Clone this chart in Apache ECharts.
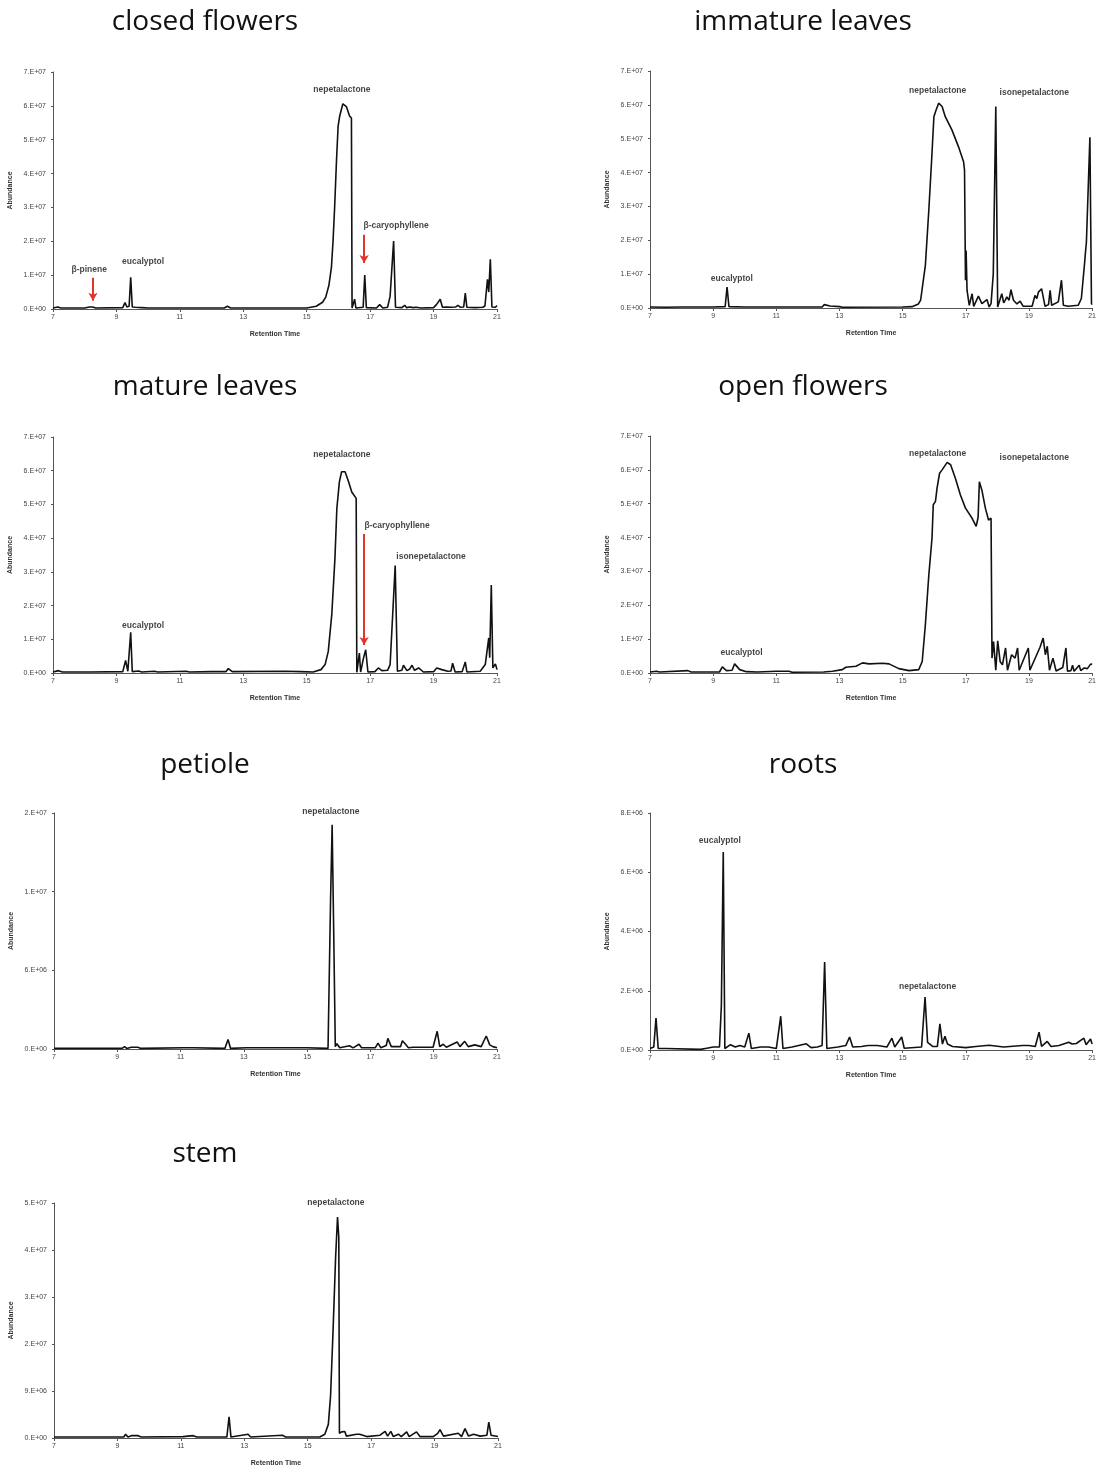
<!DOCTYPE html>
<html>
<head>
<meta charset="utf-8">
<script src="https://cdn.jsdelivr.net/npm/echarts@6/dist/echarts.min.js"></script>
<style>
html,body{margin:0;padding:0;background:#fff;}
#c{width:1099px;height:1468px;}
</style>
</head>
<body>
<div id="c"></div>
<script>
// ---------- DATA (retention time [min], abundance [x1e6]) ----------
var panelTitles = ['closed flowers','immature leaves','mature leaves','open flowers','petiole','roots','stem'];
var xTicks = ['7','9','11','13','15','17','19','21'];
var ticks7e7 = ['0.E+00','1.E+07','2.E+07','3.E+07','4.E+07','5.E+07','6.E+07','7.E+07'];
var ticksPetiole = ['0.E+00','6.E+06','1.E+07','2.E+07'];
var ticksRoots = ['0.E+00','2.E+06','4.E+06','6.E+06','8.E+06'];
var ticksStem = ['0.E+00','9.E+06','2.E+07','3.E+07','4.E+07','5.E+07'];

var closedFlowers = [[7.0,0.3],[7.15,0.6],[7.25,0.3],[8.0,0.3],[8.15,0.6],[8.25,0.6],[8.35,0.3],[9.2,0.4],[9.27,1.9],[9.33,0.6],[9.4,0.8],[9.45,9.4],[9.5,0.6],[9.6,0.5],[9.8,0.4],[10.0,0.3],[12.4,0.3],[12.5,0.8],[12.6,0.3],[15.0,0.3],[15.3,0.8],[15.5,2.0],[15.6,3.5],[15.7,7],[15.78,12.4],[15.83,20],[15.88,30],[15.94,44],[15.99,54],[16.04,57],[16.14,60.6],[16.25,59.8],[16.35,57],[16.41,56.4],[16.43,0.3],[16.48,0.5],[16.51,2.9],[16.55,0.3],[16.78,0.5],[16.83,10.0],[16.88,0.4],[17.2,0.3],[17.3,1.3],[17.4,0.3],[17.55,0.5],[17.63,3.8],[17.74,20.1],[17.8,0.5],[18.0,0.4],[18.09,1.1],[18.15,0.4],[18.25,0.6],[18.35,0.4],[18.45,0.5],[18.6,0.3],[19.0,0.4],[19.09,1.3],[19.21,2.9],[19.28,0.5],[19.4,0.6],[19.55,0.5],[19.7,0.6],[19.77,1.1],[19.85,0.5],[19.95,0.6],[20.0,4.7],[20.05,0.5],[20.3,0.4],[20.55,0.5],[20.62,0.9],[20.7,8.8],[20.74,5],[20.79,14.7],[20.84,0.6],[20.95,0.5],[21.0,1.0]];

var immatureLeaves = [[7.0,0.3],[7.5,0.2],[8.0,0.3],[9.0,0.3],[9.38,0.4],[9.44,6.2],[9.5,0.4],[10.0,0.3],[12.45,0.3],[12.52,1.0],[12.7,0.6],[13.0,0.4],[13.1,0.2],[15.0,0.3],[15.3,0.4],[15.5,1.2],[15.57,2.3],[15.67,9.2],[15.72,12.6],[15.83,29],[15.93,45.7],[15.99,56.5],[16.06,58.5],[16.14,60.5],[16.25,59.5],[16.35,56.5],[16.56,52.6],[16.77,47.6],[16.93,43.2],[16.96,40.7],[16.99,8.2],[17.01,17],[17.04,5.2],[17.11,0.8],[17.2,4.2],[17.25,0.5],[17.4,3.5],[17.51,1.3],[17.67,2.5],[17.74,0.3],[17.8,1.3],[17.87,10],[17.95,59.5],[18.01,0.3],[18.14,4.2],[18.2,1.5],[18.25,2.3],[18.3,3.3],[18.37,2.3],[18.43,5.4],[18.51,2.3],[18.62,1.2],[18.72,2.0],[18.82,0.5],[19.1,0.5],[19.19,3.7],[19.25,2.8],[19.3,4.7],[19.4,5.7],[19.51,0.5],[19.62,1.0],[19.67,5.2],[19.72,0.8],[19.93,1.8],[20.03,8.2],[20.09,0.8],[20.24,0.5],[20.56,0.8],[20.66,2.8],[20.77,14.1],[20.79,16.5],[20.82,19.5],[20.93,50.4],[20.98,1.3],[21.0,1.0]];

var matureLeaves = [[7.0,0.3],[7.17,0.7],[7.3,0.3],[8.2,0.3],[9.2,0.4],[9.29,3.7],[9.36,0.5],[9.4,0.6],[9.45,12.1],[9.5,0.4],[9.7,0.6],[9.8,0.3],[10.2,0.5],[10.3,0.3],[11.2,0.5],[11.3,0.3],[12.0,0.4],[12.45,0.4],[12.53,1.3],[12.65,0.4],[14.3,0.5],[14.8,0.4],[15.2,0.3],[15.45,1.0],[15.58,2.5],[15.68,6.4],[15.79,17.3],[15.89,34],[15.95,48.8],[16.03,56.7],[16.1,59.7],[16.21,59.7],[16.32,56.7],[16.42,53.7],[16.56,51.8],[16.58,0.2],[16.63,0.2],[16.66,5.9],[16.7,0.3],[16.79,4.4],[16.86,6.9],[16.93,0.3],[17.15,0.4],[17.26,1.5],[17.37,0.7],[17.55,0.8],[17.63,2.5],[17.79,31.9],[17.86,0.5],[18.0,0.8],[18.05,2.3],[18.16,0.7],[18.25,1.2],[18.32,2.3],[18.4,0.8],[18.53,1.5],[18.68,0.3],[19.0,0.4],[19.1,1.5],[19.26,1.0],[19.45,0.5],[19.55,0.6],[19.6,2.9],[19.68,0.3],[19.9,0.4],[20.0,3.3],[20.05,0.3],[20.47,0.5],[20.63,2.5],[20.74,10.4],[20.77,4.5],[20.82,26.1],[20.87,1.5],[20.95,2.7],[21.0,1.0]];

var openFlowers = [[7.0,0.3],[7.21,0.5],[7.3,0.3],[8.2,0.7],[8.3,0.3],[9.2,0.3],[9.29,1.8],[9.42,0.7],[9.6,0.8],[9.68,2.7],[9.84,1.0],[10.05,0.4],[10.4,0.3],[11.0,0.5],[11.4,0.5],[11.5,0.2],[12.5,0.3],[12.78,0.5],[13.09,1.0],[13.2,1.7],[13.52,2.0],[13.73,3.0],[13.94,2.7],[14.36,2.9],[14.57,2.7],[14.88,1.3],[15.2,0.7],[15.51,1.0],[15.62,3.4],[15.72,14.3],[15.83,29],[15.93,39.8],[15.97,49.7],[16.04,50.7],[16.09,54.6],[16.17,59],[16.25,60],[16.41,62.2],[16.52,61.5],[16.67,57.5],[16.83,52.6],[16.99,48.7],[17.2,45.7],[17.33,43.3],[17.39,46],[17.43,56.5],[17.51,54],[17.62,48.7],[17.72,45.2],[17.8,45.7],[17.83,4.4],[17.88,9.3],[17.95,0.8],[18.01,9.5],[18.09,3.3],[18.16,2.4],[18.26,7.4],[18.32,0.8],[18.45,5.4],[18.56,4.4],[18.64,7.4],[18.69,0.8],[18.98,7.4],[19.03,0.8],[19.35,7.6],[19.45,10.3],[19.52,5.4],[19.58,7.9],[19.65,0.8],[19.76,4.4],[19.86,0.6],[20.07,1.6],[20.17,7.4],[20.22,0.5],[20.33,0.7],[20.38,2.3],[20.43,0.5],[20.59,2.3],[20.64,0.7],[20.75,1.5],[20.85,1.3],[20.96,2.7],[21.0,2.5]];

var petiole = [[7.0,0.05],[9.15,0.05],[9.23,0.2],[9.3,0.05],[9.44,0.15],[9.65,0.15],[9.75,0.05],[11.1,0.1],[11.4,0.1],[12.4,0.05],[12.5,0.8],[12.58,0.05],[13.08,0.1],[14.18,0.1],[14.97,0.1],[15.66,0.05],[15.74,12.6],[15.79,19.0],[15.84,9.8],[15.89,0.2],[15.94,0.45],[16.03,0.1],[16.34,0.28],[16.45,0.1],[16.64,0.4],[16.72,0.1],[17.15,0.1],[17.24,0.5],[17.33,0.1],[17.5,0.3],[17.55,0.9],[17.66,0.2],[17.95,0.2],[18.01,0.7],[18.11,0.4],[18.2,0.1],[18.35,0.15],[18.98,0.15],[19.11,1.5],[19.19,0.2],[19.3,0.4],[19.4,0.15],[19.74,0.6],[19.83,0.2],[19.98,0.65],[20.09,0.2],[20.3,0.35],[20.5,0.2],[20.66,1.1],[20.77,0.35],[20.87,0.2],[21.0,0.1]];

var roots = [[7.0,0.05],[7.12,0.1],[7.19,1.08],[7.26,0.05],[7.5,0.05],[8.6,0.02],[8.8,0.06],[9.0,0.1],[9.2,0.1],[9.26,1.5],[9.32,6.68],[9.37,0.05],[9.55,0.18],[9.7,0.1],[9.84,0.15],[10.0,0.1],[10.13,0.57],[10.21,0.05],[10.5,0.1],[10.75,0.1],[11.0,0.05],[11.14,1.14],[11.21,0.05],[11.5,0.1],[11.95,0.21],[12.1,0.08],[12.3,0.1],[12.45,0.15],[12.53,2.97],[12.6,0.05],[12.95,0.1],[13.2,0.15],[13.32,0.44],[13.42,0.1],[13.7,0.12],[13.9,0.15],[14.2,0.15],[14.5,0.1],[14.66,0.4],[14.75,0.1],[14.97,0.44],[15.05,0.06],[15.6,0.1],[15.71,1.79],[15.79,0.26],[15.95,0.12],[16.1,0.12],[16.18,0.88],[16.26,0.2],[16.34,0.46],[16.42,0.2],[16.58,0.12],[17.0,0.08],[17.32,0.12],[17.74,0.16],[18.2,0.1],[18.79,0.15],[19.0,0.15],[19.2,0.12],[19.32,0.6],[19.4,0.12],[19.58,0.29],[19.7,0.12],[19.95,0.15],[20.26,0.26],[20.37,0.2],[20.5,0.22],[20.74,0.4],[20.81,0.18],[20.95,0.37],[21.0,0.2]];

var stem = [[7.0,0.2],[7.8,0.2],[9.2,0.2],[9.26,0.8],[9.33,0.2],[9.44,0.5],[9.65,0.5],[9.75,0.2],[11.07,0.3],[11.39,0.5],[11.5,0.2],[12.45,0.2],[12.52,4.5],[12.58,0.2],[13.12,0.8],[13.2,0.2],[14.2,0.6],[14.3,0.2],[15.38,0.2],[15.54,0.8],[15.65,2.9],[15.72,8.9],[15.8,23],[15.88,38.5],[15.94,47],[15.98,42.7],[16.0,1.0],[16.07,1.3],[16.17,1.4],[16.22,0.4],[16.54,0.8],[16.6,0.4],[16.64,0.8],[16.86,0.3],[17.28,0.6],[17.44,1.4],[17.52,0.4],[17.62,1.4],[17.7,0.3],[17.86,0.8],[17.95,0.3],[18.12,1.3],[18.2,0.3],[18.43,1.3],[18.54,0.3],[18.96,0.3],[19.1,1.0],[19.17,1.8],[19.28,0.4],[19.75,1.0],[19.85,0.3],[19.96,2.0],[20.07,0.4],[20.23,0.8],[20.44,0.4],[20.65,0.6],[20.71,3.4],[20.78,0.6],[21.0,0.3]];

// peak annotations: [label, rt, abundance]
var closedLabels = [['nepetalactone',16.11,64.7],['β-caryophyllene',17.82,24.5],['eucalyptol',9.84,13.9],['β-pinene',8.14,11.5]];
var immatureLabels = [['nepetalactone',16.11,64.1],['isonepetalactone',19.17,63.5],['eucalyptol',9.59,8.6]];
var matureLabels = [['nepetalactone',16.11,64.7],['β-caryophyllene',17.85,43.6],['isonepetalactone',18.92,34.4],['eucalyptol',9.84,13.9]];
var openLabels = [['nepetalactone',16.11,64.7],['isonepetalactone',19.17,63.5],['eucalyptol',9.9,5.9]];
var petioleLabels = [['nepetalactone',15.75,20.1]];
var rootsLabels = [['eucalyptol',9.21,7.06],['nepetalactone',15.79,2.13]];
var stemLabels = [['nepetalactone',15.89,50.0]];
// red arrows: [rt, fromAbundance, toAbundance]
var closedArrows = [[8.26,9.2,2.4],[16.81,21.9,13.6]];
var matureArrows = [[16.81,41.2,8.3]];

// ---------- LAYOUT ----------
var panels = [
  {data:closedFlowers, labels:closedLabels, arrows:closedArrows, ticks:ticks7e7, max:70, interval:10, grid:{left:53,top:72,width:444,height:237}, tx:205},
  {data:immatureLeaves, labels:immatureLabels, arrows:[], ticks:ticks7e7, max:70, interval:10, grid:{left:650,top:71,width:444,height:237}, tx:803},
  {data:matureLeaves, labels:matureLabels, arrows:matureArrows, ticks:ticks7e7, max:70, interval:10, grid:{left:53,top:437,width:444,height:236}, tx:205},
  {data:openFlowers, labels:openLabels, arrows:[], ticks:ticks7e7, max:70, interval:10, grid:{left:650,top:436,width:444,height:237}, tx:803},
  {data:petiole, labels:petioleLabels, arrows:[], ticks:ticksPetiole, max:20, interval:20/3, grid:{left:54,top:813,width:443,height:236}, tx:205},
  {data:roots, labels:rootsLabels, arrows:[], ticks:ticksRoots, max:8, interval:2, grid:{left:650,top:813,width:443,height:237}, tx:803},
  {data:stem, labels:stemLabels, arrows:[], ticks:ticksStem, max:50, interval:10, grid:{left:54,top:1203,width:444,height:236}, tx:205}
];
var titleTops = [8,8,373,373,751,751,1140];

var grids=[], xAxes=[], yAxes=[], series=[], titles=[];
var axisFont = 'Liberation Sans, Arial, sans-serif';
panels.forEach(function(p,i){
  grids.push(p.grid);
  titles.push({text:panelTitles[i], left:p.tx, top:titleTops[i], textAlign:'center', padding:0,
    textStyle:{fontFamily:'Open Sans, Noto Sans, sans-serif', fontSize:28, fontWeight:'normal', color:'#111'}});
  xAxes.push({type:'value', gridIndex:i, min:7, max:21, interval:2,
    name:'Retention Time', nameLocation:'middle', nameGap:22,
    nameTextStyle:{fontFamily:axisFont, fontSize:7, fontWeight:'bold', color:'#333'},
    axisLine:{lineStyle:{color:'#555', width:1}},
    axisTick:{show:true, length:3, lineStyle:{color:'#555'}},
    axisLabel:{fontFamily:axisFont, fontSize:7, color:'#444', margin:5,
      formatter:function(v){ var k=Math.round((v-7)/2); return xTicks[k]!==undefined?xTicks[k]:''; }},
    splitLine:{show:false}});
  (function(p){
  yAxes.push({type:'value', gridIndex:i, min:0, max:p.max, interval:p.interval,
    name:'Abundance', nameLocation:'middle', nameGap:39, nameRotate:90,
    nameTextStyle:{fontFamily:axisFont, fontSize:7, fontWeight:'bold', color:'#333'},
    axisLine:{show:true, lineStyle:{color:'#555', width:1}},
    axisTick:{show:true, length:2, lineStyle:{color:'#555'}},
    axisLabel:{fontFamily:axisFont, fontSize:7, color:'#444', margin:7,
      formatter:function(v){ var k=Math.round(v/p.interval); return p.ticks[k]!==undefined?p.ticks[k]:''; }},
    splitLine:{show:false}});
  })(p);
  series.push({type:'line', xAxisIndex:i, yAxisIndex:i, data:p.data, showSymbol:false, symbol:'none',
    lineStyle:{color:'#111', width:1.6}, silent:true, animation:false});
  var markData = p.arrows.map(function(a){ return [{coord:[a[0],a[1]]},{coord:[a[0],a[2]]}]; });
  series.push({type:'scatter', xAxisIndex:i, yAxisIndex:i, symbolSize:0, clip:false, silent:true, animation:false,
    data:p.labels.map(function(l){ return {name:l[0], value:[l[1],l[2]]}; }),
    label:{show:true, position:'inside', formatter:'{b}', fontFamily:axisFont, fontSize:8.5, fontWeight:'bold', color:'#111'},
    markLine:{silent:true, animation:false, symbol:['none','arrow'], symbolSize:[7,8], label:{show:false},
      lineStyle:{color:'#e2342a', width:2, type:'solid'}, data:markData}});
});

var chart = echarts.init(document.getElementById('c'), null, {renderer:'canvas'});
chart.setOption({animation:false, backgroundColor:'#fff', title:titles, grid:grids, xAxis:xAxes, yAxis:yAxes, series:series});
</script>
</body>
</html>
